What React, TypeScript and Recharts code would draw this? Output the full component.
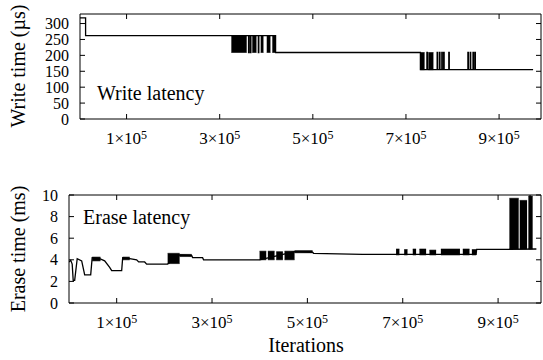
import React from 'react';
import { ComposedChart, Line, Area, XAxis, YAxis } from 'recharts';

const FONT = "'Liberation Serif', 'DejaVu Serif', 'Times New Roman', serif";

const xTicks = [100000, 300000, 500000, 700000, 900000];
const xDomain = [0, 990000];

const writeTicks = [0, 50, 100, 150, 200, 250, 300];
const eraseTicks = [0, 2, 4, 6, 8, 10];

// write latency (µs) - [iteration, value], drawn as steps
const writeSteps = [
  [0, 318], [12000, 262], [362000, 209], [363000, 262], [366000, 209], [367000, 262],
  [383000, 209], [384000, 262], [420000, 209], [731000, 155], [745000, 209], [746000, 155],
  [767000, 209], [768000, 155], [772000, 209], [773000, 155], [777000, 209], [778000, 155],
  [781000, 209], [782000, 155], [792000, 209], [793000, 155], [833000, 209], [834000, 155],
  [838000, 209], [839000, 155], [844000, 209], [845000, 155], [848000, 209], [849000, 155],
  [973000, 155],
];

// dense toggling stretches - [from, to, low, high]
const writeBursts = [
  [325000, 358000, 209, 262], [370000, 379000, 209, 262], [388000, 394000, 209, 262],
  [401000, 409000, 209, 262], [413000, 420000, 209, 262],
  [731000, 740000, 155, 209], [748000, 759000, 155, 209],
];

// erase latency (ms)
const eraseSteps = [
  [0, 3.8], [3600, 3.95], [6700, 3.6], [8800, 2.1], [11900, 2.1], [17200, 4.1], [26600, 3.9],
  [32900, 2.6], [45500, 2.6], [48600, 4.2], [64300, 4.1], [74800, 3.9], [85300, 3.3],
  [89500, 3.0], [110500, 3.0], [112600, 4.2], [127300, 4.1], [141900, 4.0], [146100, 3.8],
  [158700, 3.8], [162900, 3.6], [206900, 3.6], [232000, 4.45], [257200, 4.4], [259300, 4.2],
  [280200, 4.2], [282300, 4.0], [399700, 4.0], [473100, 4.75], [510800, 4.7], [513000, 4.6],
  [615600, 4.5], [853900, 4.5], [855000, 4.97], [923700, 4.97], [980300, 5.0],
];

const eraseBursts = [
  [48600, 66000, 3.9, 4.25], [112600, 127300, 4.0, 4.25], [206900, 232000, 3.65, 4.6],
  [232000, 257200, 4.3, 4.5],
  [399700, 413700, 4.0, 4.8], [417100, 431100, 4.0, 4.8], [434700, 448600, 4.0, 4.75],
  [452100, 473100, 4.0, 4.8], [473100, 510800, 4.65, 4.85],
  [686000, 693000, 4.45, 5.0], [703000, 710000, 4.45, 4.95], [721000, 728000, 4.45, 5.0],
  [735000, 749000, 4.45, 5.0], [756000, 770000, 4.45, 4.9], [780000, 820000, 4.45, 5.0],
  [826000, 840000, 4.45, 5.0], [845000, 854000, 4.45, 4.95],
  [923700, 943200, 5.0, 9.7], [945300, 960800, 5.0, 9.5], [963500, 972500, 5.0, 9.9],
  [966000, 968000, 5.0, 10],
];

const toPoints = (rows: number[][]) => rows.map(([x, v]) => ({ x, v }));
const toBand = (b: number[]) => [
  { x: b[0], v: [b[2], b[3]] },
  { x: b[1], v: [b[2], b[3]] },
];

const TICK = 5;
const textStyle = { fontFamily: FONT };

function BottomTick({ x, y, payload }: any) {
  return (
    <g>
      <line x1={x} y1={y} x2={x} y2={y - TICK} stroke="#000" />
      <text x={x} y={y + 25} textAnchor="middle" style={textStyle} fontSize={17} fill="#000">
        {`${payload.value / 100000}×10`}
        <tspan fontSize={12} dy={-5}>5</tspan>
      </text>
    </g>
  );
}

function TopTick({ x, y }: any) {
  return <line x1={x} y1={y} x2={x} y2={y + TICK} stroke="#000" />;
}

function LeftTick({ x, y, payload }: any) {
  return (
    <g>
      <line x1={x} y1={y} x2={x + TICK} y2={y} stroke="#000" />
      <text x={x - 11} y={y + 5.5} textAnchor="end" style={textStyle} fontSize={16} fill="#000">
        {payload.value}
      </text>
    </g>
  );
}

function RightTick({ x, y }: any) {
  return <line x1={x} y1={y} x2={x - TICK} y2={y} stroke="#000" />;
}

interface PanelProps {
  steps: number[][];
  bursts: number[][];
  yDomain: number[];
  yTicks: number[];
  lineType: 'stepAfter' | 'linear';
  height: number;
  margin: { top: number; right: number; bottom: number; left: number };
}

function Panel({ steps, bursts, yDomain, yTicks, lineType, height, margin }: PanelProps) {
  const axisLine = { stroke: '#000', strokeWidth: 1 };
  return (
    <ComposedChart width={543} height={height} margin={margin}>
      <XAxis
        xAxisId="b" type="number" dataKey="x" domain={xDomain} ticks={xTicks} interval={0}
        allowDataOverflow height={30} tickSize={0} tickMargin={0} tickLine={false}
        axisLine={axisLine} tick={BottomTick}
      />
      <XAxis
        xAxisId="t" orientation="top" type="number" dataKey="x" domain={xDomain} ticks={xTicks}
        interval={0} allowDataOverflow height={1} tickSize={0} tickMargin={0} tickLine={false}
        axisLine={axisLine} tick={TopTick}
      />
      <YAxis
        yAxisId="l" type="number" domain={yDomain} ticks={yTicks} interval={0} allowDataOverflow
        width={60} tickSize={0} tickMargin={0} tickLine={false} axisLine={axisLine} tick={LeftTick}
      />
      <YAxis
        yAxisId="r" orientation="right" type="number" domain={yDomain} ticks={yTicks} interval={0}
        allowDataOverflow width={1} tickSize={0} tickMargin={0} tickLine={false}
        axisLine={axisLine} tick={RightTick}
      />
      {bursts.map((b, i) => (
        <Area
          key={i}
          xAxisId="b"
          yAxisId="l"
          data={toBand(b)}
          dataKey="v"
          type="linear"
          stroke="#000"
          strokeWidth={0.6}
          fill="#000"
          fillOpacity={1}
          dot={false}
          activeDot={false}
          isAnimationActive={false}
        />
      ))}
      <Line
        xAxisId="b"
        yAxisId="l"
        data={toPoints(steps)}
        dataKey="v"
        type={lineType}
        stroke="#000"
        strokeWidth={1.3}
        dot={false}
        activeDot={false}
        isAnimationActive={false}
      />
    </ComposedChart>
  );
}

export default function App() {
  return (
    <div style={{ position: 'absolute', left: 0, top: 0, width: 543, height: 360, background: '#fff' }}>
      <div style={{ position: 'absolute', left: 0, top: 0 }}>
        <Panel
          steps={writeSteps}
          bursts={writeBursts}
          yDomain={[0, 330]}
          yTicks={writeTicks}
          lineType="stepAfter"
          height={175}
          margin={{ top: 13, right: 1, bottom: 26, left: 20 }}
        />
      </div>
      <div style={{ position: 'absolute', left: 0, top: 180 }}>
        <Panel
          steps={eraseSteps}
          bursts={eraseBursts}
          yDomain={[0, 10]}
          yTicks={eraseTicks}
          lineType="linear"
          height={180}
          margin={{ top: 14, right: 1, bottom: 27, left: 9 }}
        />
      </div>
      <svg
        width={543}
        height={360}
        style={{ position: 'absolute', left: 0, top: 0, pointerEvents: 'none', fontFamily: FONT }}
        fill="#000"
      >
        <text x={25} y={66} fontSize={20} textAnchor="middle" transform="rotate(-90 25 66)">
          Write time (µs)
        </text>
        <text x={97} y={100} fontSize={20}>Write latency</text>
        <text x={25} y={249} fontSize={20} textAnchor="middle" transform="rotate(-90 25 249)">
          Erase time (ms)
        </text>
        <text x={83} y={224} fontSize={20}>Erase latency</text>
        <text x={306} y={352} fontSize={20} textAnchor="middle">Iterations</text>
      </svg>
    </div>
  );
}
